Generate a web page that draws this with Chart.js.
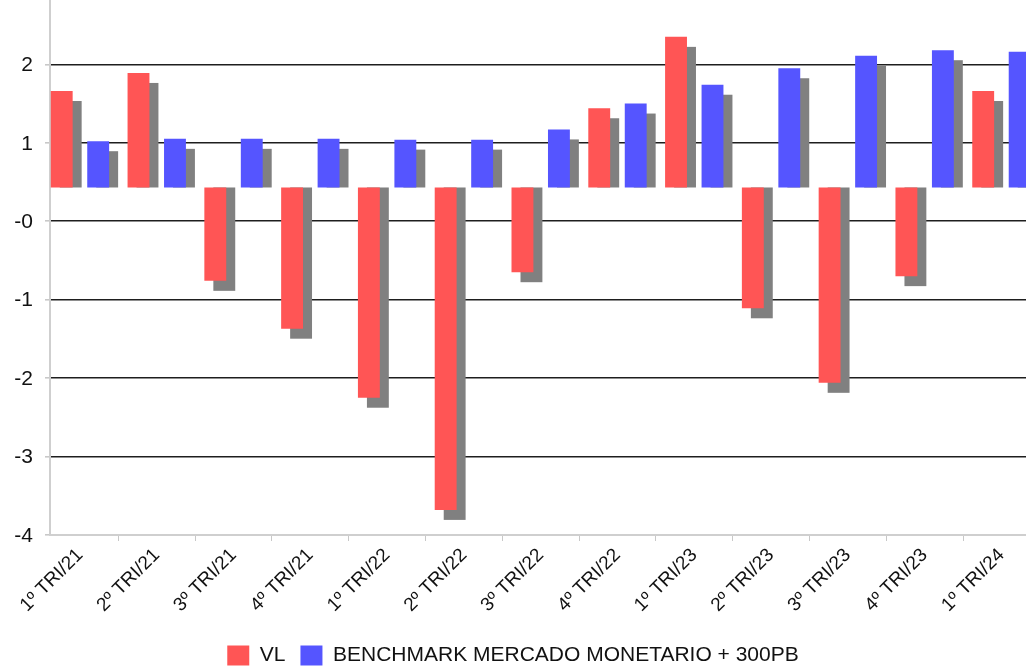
<!DOCTYPE html>
<html>
<head>
<meta charset="utf-8">
<script src="https://cdn.jsdelivr.net/npm/chart.js@4"></script>
<style>
  html, body { margin: 0; padding: 0; background: #fff; overflow: hidden; }
  .chart-container { position: relative; width: 1026px; height: 669px; }
</style>
</head>
<body>
<div class="chart-container"><canvas id="chart"></canvas></div>
<script>
// quarters on the x axis
const categories = ['1º TRI/21', '2º TRI/21', '3º TRI/21', '4º TRI/21', '1º TRI/22', '2º TRI/22', '3º TRI/22',
  '4º TRI/22', '1º TRI/23', '2º TRI/23', '3º TRI/23', '4º TRI/23', '1º TRI/24'];
const vlValues = [1.66, 1.89, -0.76, -1.37, -2.25, -3.68, -0.65, 1.44, 2.35, -1.11, -2.06, -0.70, 1.66];
const benchmarkValues = [1.02, 1.05, 1.05, 1.05, 1.04, 1.04, 1.17, 1.50, 1.74, 1.95, 2.11, 2.18, 2.16];
const yTickValues = [2, 1, 0, -1, -2, -3, -4];
const yTickLabels = ['2', '1', '-0', '-1', '-2', '-3', '-4'];
const barBase = 0.43; // bars hang from here, not from zero

const fontFamily = '"Liberation Sans", Arial, sans-serif';

// grey drop shadow behind each bar
const shadowPlugin = {
  id: 'barShadow',
  beforeDatasetsDraw(chart) {
    const ctx = chart.ctx;
    const area = chart.chartArea;
    ctx.save();
    ctx.beginPath();
    ctx.rect(area.left, area.top, area.right - area.left, area.bottom - area.top);
    ctx.clip();
    ctx.fillStyle = '#808080';
    chart.data.datasets.forEach((ds, i) => {
      chart.getDatasetMeta(i).data.forEach(bar => {
        const { x, y, base, width } = bar.getProps(['x', 'y', 'base', 'width'], true);
        const left = x - width / 2 + 9;
        let top, bottom;
        if (y < base) { top = y + 10; bottom = base; } else { top = base; bottom = y + 10; }
        ctx.fillRect(left, top, width, bottom - top);
      });
    });
    ctx.restore();
  }
};

const ctx = document.getElementById('chart').getContext('2d');
new Chart(ctx, {
  type: 'bar',
  data: {
    datasets: [{
      label: 'VL',
      data: vlValues.map((v, i) => ({ x: i, y: v })),
      base: barBase,
      backgroundColor: '#ff5555',
      borderWidth: 0,
    }, {
      label: 'BENCHMARK MERCADO MONETARIO + 300PB',
      data: benchmarkValues.map((v, i) => ({ x: i, y: v })),
      base: barBase,
      backgroundColor: '#5555ff',
      borderWidth: 0,
    }]
  },
  options: {
    responsive: true,
    maintainAspectRatio: false,
    animation: false,
    categoryPercentage: 0.95,
    barPercentage: 0.6,
    layout: { padding: { top: 0, left: 0, right: 0, bottom: -7 } },
    scales: {
      x: {
        type: 'linear',
        min: -0.39,
        max: 12.32,
        offset: false,
        grid: { drawOnChartArea: false, tickColor: '#c8c8c8', tickLength: 6 },
        border: { color: '#cfcfcf', width: 2 },
        ticks: {
          stepSize: 1,
          includeBounds: false,
          autoSkip: false,
          minRotation: 45,
          maxRotation: 45,
          color: '#111',
          font: { family: fontFamily, size: 19 },
          callback: v => categories[v] ?? '',
        },
        afterFit: s => { s.height = 95; s.paddingLeft = 0; s.paddingRight = 0; },
      },
      y: {
        min: -4,
        max: 2.82,
        grid: {
          color: c => (c.tick && c.tick.value === -4) ? 'rgba(0,0,0,0)' : '#1e1e1e',
          lineWidth: 1.6,
          tickColor: '#c8c8c8',
          tickLength: 5,
        },
        border: { color: '#cfcfcf', width: 2 },
        ticks: {
          stepSize: 1,
          includeBounds: false,
          padding: 12,
          labelOffset: 1,
          color: '#111',
          font: { family: fontFamily, size: 21 },
          callback: v => yTickLabels[yTickValues.indexOf(v)],
        },
        afterFit: s => { s.width = 50; s.paddingTop = 0; s.paddingBottom = 0; },
      }
    },
    plugins: {
      tooltip: { enabled: false },
      legend: {
        position: 'bottom',
        labels: {
          boxWidth: 22,
          boxHeight: 20,
          padding: 15,
          color: '#111',
          font: { family: fontFamily, size: 21 },
        }
      }
    }
  },
  plugins: [shadowPlugin]
});
</script>
</body>
</html>
